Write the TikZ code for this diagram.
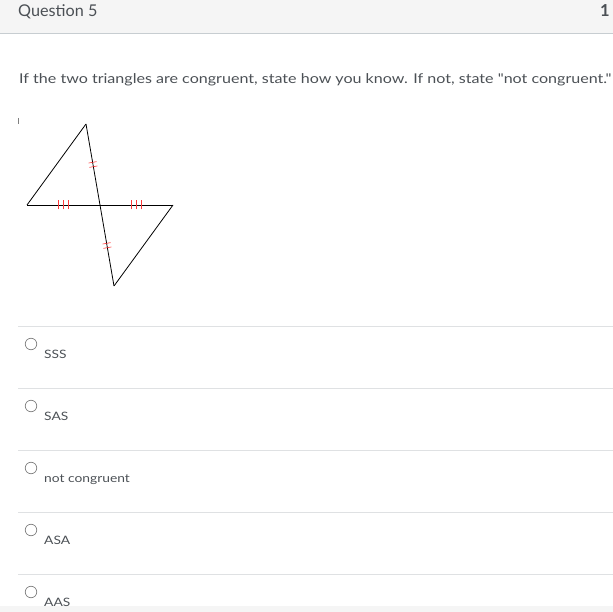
\documentclass[tikz,border=0pt]{standalone}
\usepackage{fontspec}
\setmainfont{Lato}
\newfontfamily\widelato{Lato}[FakeStretch=1.19]
\usetikzlibrary{decorations.markings}
\definecolor{headbg}{HTML}{F5F5F5}
\definecolor{headline}{HTML}{C7CDD1}
\definecolor{txtgray}{HTML}{4B5055}
\definecolor{rulegray}{HTML}{DFE1E3}
\definecolor{markred}{HTML}{FF3A3A}

\begin{document}
\begin{tikzpicture}[x=1pt,y=-1pt,
    radio/.style={circle,draw=gray,line width=0.7pt,minimum size=11.5pt,inner sep=0pt},
    choice/.style={anchor=base west,inner sep=0pt,text=txtgray,font=\widelato\fontsize{11.6}{13}\selectfont},
    twoticks/.style={postaction={decorate},decoration={markings,
        mark=at position 0.5 with {
            \foreach \t in {-2.2,2.2} \draw[markred,line width=0.6pt] (\t pt,-4pt) -- (\t pt,4pt);}}},
    threeticks/.style={postaction={decorate},decoration={markings,
        mark=at position 0.5 with {
            \foreach \t in {-5,0,5} \draw[markred,line width=0.6pt] (\t pt,-4.5pt) -- (\t pt,4.5pt);}}}]
    \useasboundingbox (0,0) rectangle (613,612);

    % header
    \fill[headbg] (0,0) rectangle (613,34);
    \draw[headline,line width=1pt] (0,34) -- (613,34);
    \node[anchor=base west,inner sep=0pt,text=txtgray,font=\fontsize{16.2}{18}\selectfont] (title) at (18,17) {Question 5};
    \node[anchor=base east,inner sep=0pt,text=txtgray,font=\fontsize{16.5}{18}\selectfont\bfseries] (points) at (610,17) {1};

    \node[anchor=base west,inner sep=0pt,text=txtgray,font=\widelato\fontsize{13.5}{16}\selectfont] (question) at (19,84)
        {If the two triangles are congruent, state how you know. If not, state "not congruent."};
    \draw[gray,line width=0.8pt] (18,118) -- (18,124);

    % the two triangles
    \coordinate (A) at (86,124);
    \coordinate (B) at (27,205);
    \coordinate (C) at (173,205);
    \coordinate (D) at (114,286);
    \coordinate (X) at (100,205);
    \draw[line width=0.8pt] (A) -- (B);
    \draw[line width=0.8pt] (C) -- (D);
    \draw[line width=0.8pt,threeticks] (B) -- (X);
    \draw[line width=0.8pt,threeticks] (X) -- (C);
    \draw[line width=0.8pt,twoticks] (A) -- (X);
    \draw[line width=0.8pt,twoticks] (X) -- (D);

    % answers
    \fill[headbg] (0,606) rectangle (613,612);
    \foreach \lbl [count=\i] in {SSS,SAS,not congruent,ASA,AAS} {
        \draw[rulegray,line width=1pt] (18,264+62*\i) -- (613,264+62*\i);
        \node[radio] (radio\i) at (31,282+62*\i) {};
        \node[choice] (choice\i) at (44,296.5+62*\i) {\lbl};
    }
\end{tikzpicture}
\end{document}
